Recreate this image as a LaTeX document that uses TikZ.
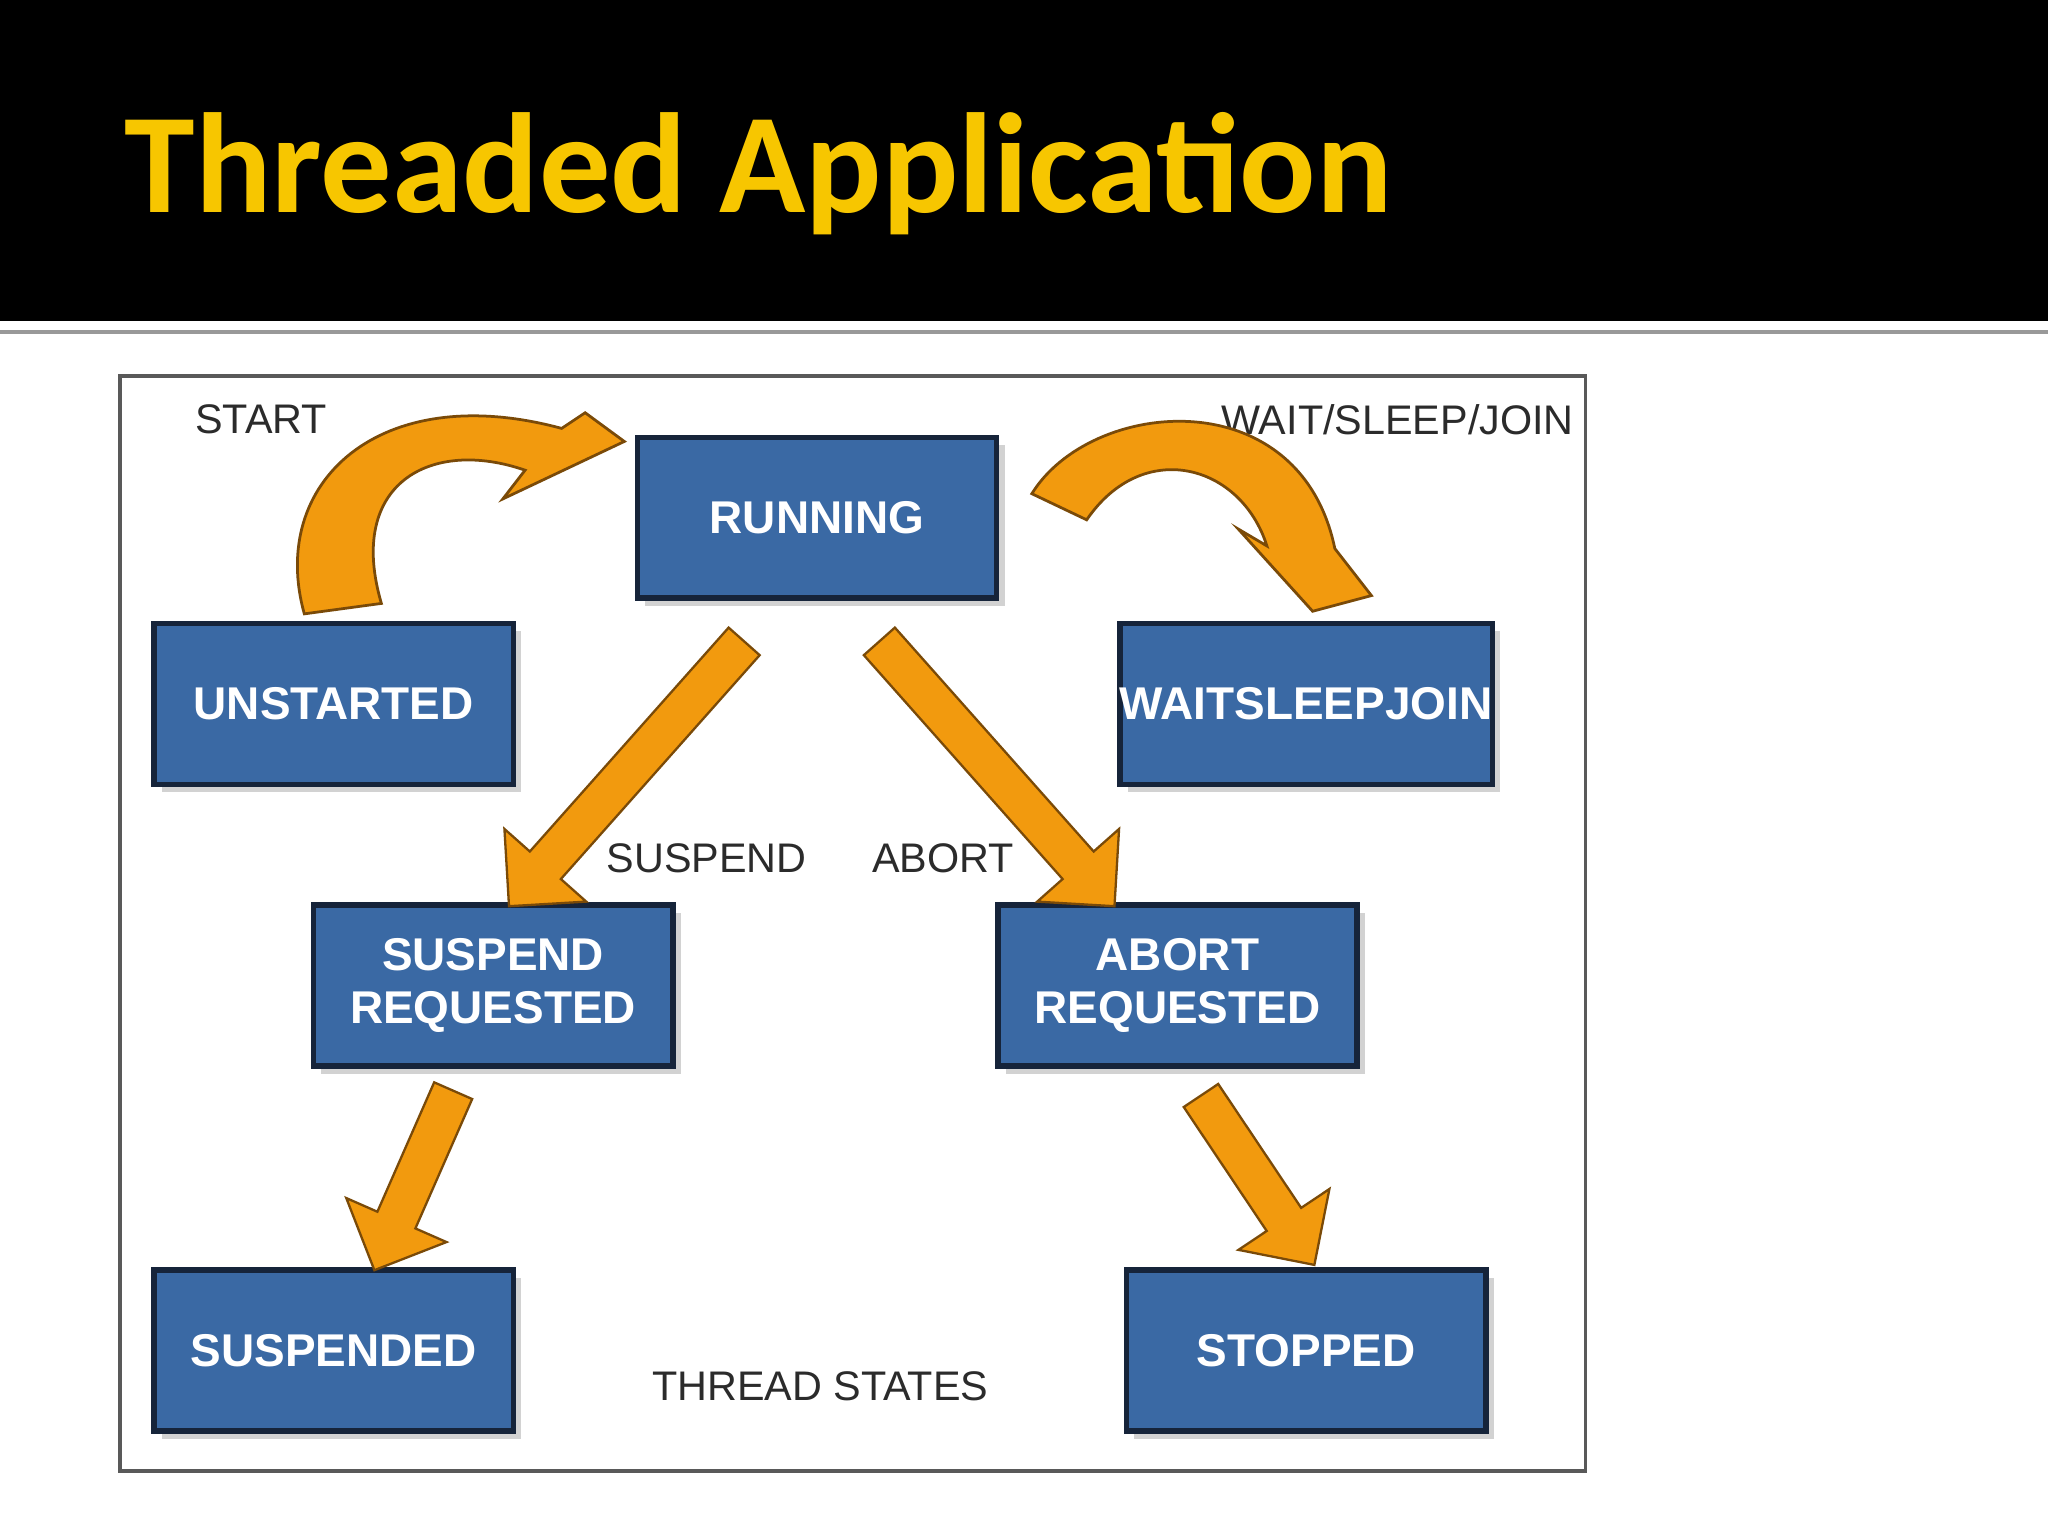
\documentclass[tikz,border=0pt]{standalone}
\usepackage{fontspec}
\setmainfont{Liberation Sans}
\newfontfamily\titlefont{Carlito}
\usetikzlibrary{shapes.arrows,shadows}
\definecolor{boxblue}{HTML}{3A69A4}
\definecolor{boxedge}{HTML}{16243A}
\definecolor{arroworange}{HTML}{F29A0E}
\definecolor{arrowedge}{HTML}{7A4A08}
\definecolor{titleyellow}{HTML}{F7C600}
\definecolor{labelgray}{HTML}{2B2B2B}
\begin{document}
\begin{tikzpicture}[x=0.01cm,y=-0.01cm,
  state/.style={draw=boxedge,line width=1.2pt,fill=boxblue,text=white,
    font=\bfseries\fontsize{10}{11.5}\selectfont,align=center,
    minimum width=2.75cm,minimum height=1.23cm,inner sep=0pt,
    drop shadow={shadow xshift=0.6mm,shadow yshift=-0.6mm,opacity=0.35}},
  lbl/.style={text=labelgray,font=\fontsize{9}{10}\selectfont,inner sep=0pt},
  flow/.style={single arrow,draw=arrowedge,line width=0.5pt,fill=arroworange,
    inner xsep=0pt,inner ysep=0.15cm,single arrow head extend=0.26cm,
    single arrow head indent=0pt,anchor=center},
  curveflow/.style={draw=arrowedge,line width=0.6pt,fill=arroworange,line join=miter}]
\useasboundingbox (0,0) rectangle (1568,1176);
\fill[white] (0,0) rectangle (1568,1176);
\fill[black] (0,0) rectangle (1568,246);
\fill[gray!80] (0,253) rectangle (1568,256);
\node[anchor=base west,text=titleyellow,inner sep=0pt,
  font=\titlefont\bfseries\fontsize{31}{36}\selectfont] (title) at (95,163) {Threaded Application};
\draw[gray!70!black,line width=0.8pt] (92,288) rectangle (1214,1126);

\node[state] (running) at (625.5,396.5) {RUNNING};
\node[state] (unstarted) at (255.5,539) {UNSTARTED};
\node[state] (wsj) at (1000,539) {WAITSLEEPJOIN};
\node[state] (susreq) at (377.5,754.5) {SUSPEND\\REQUESTED};
\node[state] (abreq) at (901.5,754.5) {ABORT\\REQUESTED};
\node[state] (suspended) at (255.5,1034) {SUSPENDED};
\node[state] (stopped) at (1000,1034) {STOPPED};

\node[lbl] (start) at (200,321) {START};
\node[lbl] (wait) at (1070,321) {WAIT/SLEEP/JOIN};
\node[lbl] (suspend) at (541,657) {SUSPEND};
\node[lbl] (abort) at (722,657) {ABORT};
\node[lbl] (states) at (628,1061) {THREAD STATES};

\node[flow,minimum height=2.71cm,rotate=228.4] (f1) at (485,586.5) {};
\node[flow,minimum height=2.71cm,rotate=-48.4] (f2) at (758,586.5) {};
\node[flow,minimum height=1.50cm,rotate=246.3] (f3) at (320,896.5) {};
\node[flow,minimum height=1.56cm,rotate=-56.2] (f4) at (958.5,897) {};

\path[curveflow] (233,470) .. controls (205,370) and (290,290) .. (430,328)
  -- (448,316) -- (478,338) -- (385,382) -- (402,360)
  .. controls (330,335) and (265,370) .. (292,462) -- cycle;
\path[curveflow] (790,378) .. controls (835,305) and (995,290) .. (1022,420)
  -- (1050,456) -- (1005,468) -- (948,405) -- (970,418)
  .. controls (950,355) and (875,335) .. (832,398) -- cycle;
\end{tikzpicture}
\end{document}
